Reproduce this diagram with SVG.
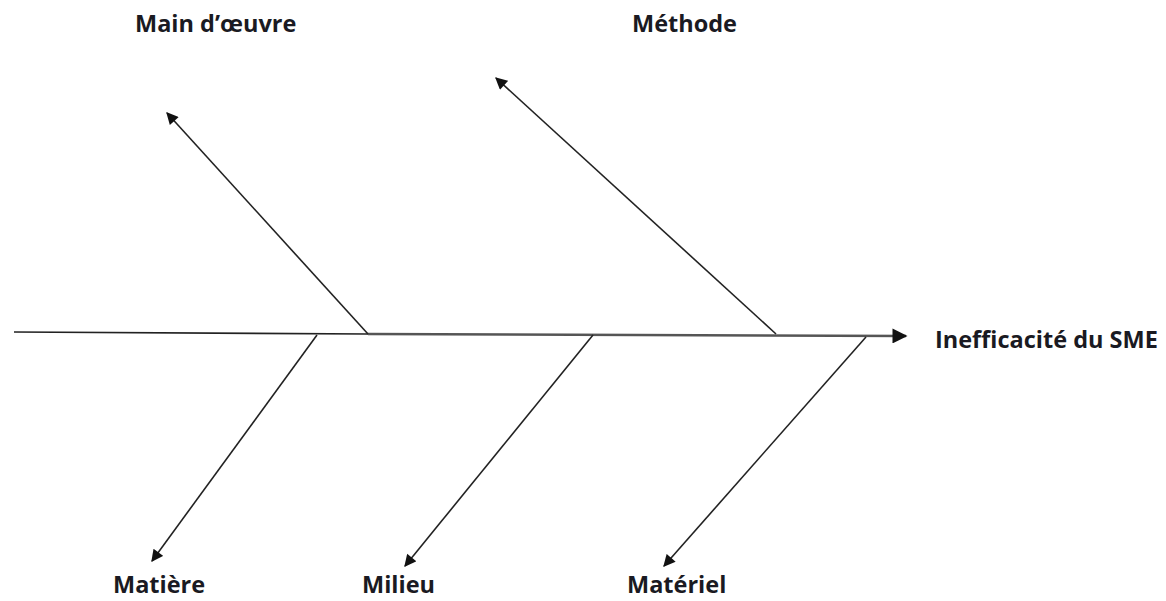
<svg xmlns="http://www.w3.org/2000/svg" width="1166" height="601" viewBox="0 0 1166 601">
<style>
.lbl{font-family:"Open Sans","Liberation Sans",sans-serif;font-weight:bold;font-size:23.5px;fill:#1a1a22}
.ln{stroke:#222;stroke-width:1.6;fill:none}
.spine{stroke:#555;stroke-width:2.5;fill:none}
</style>
<defs>
<marker id="ah" viewBox="0 0 10 10" refX="9" refY="5" markerWidth="13" markerHeight="12" markerUnits="userSpaceOnUse" orient="auto">
<path d="M0,0 L10,5 L0,10 z" fill="#111"/>
</marker>
<marker id="ahBig" viewBox="0 0 10 10" refX="9" refY="5" markerWidth="17" markerHeight="15" markerUnits="userSpaceOnUse" orient="auto">
<path d="M0,0 L10,5 L0,10 z" fill="#111"/>
</marker>
</defs>
<rect width="1166" height="601" fill="#fff"/>
<g id="connectors">
<path class="ln" d="M14,332 L368,334"/>
<path class="spine" d="M368,334 L906,336" marker-end="url(#ahBig)"/>
<path class="ln" d="M368,334 L167,113" marker-end="url(#ah)"/>
<path class="ln" d="M776,334 L496,78" marker-end="url(#ah)"/>
<path class="ln" d="M317,335 L152,561" marker-end="url(#ah)"/>
<path class="ln" d="M593,335 L405,566" marker-end="url(#ah)"/>
<path class="ln" d="M866,337 L664,566" marker-end="url(#ah)"/>
</g>
<g id="effect"><text class="lbl" x="935" y="348">Inefficacité du SME</text></g>
<g id="main-oeuvre"><text class="lbl" x="135" y="32">Main d’œuvre</text></g>
<g id="methode"><text class="lbl" x="632" y="32">Méthode</text></g>
<g id="matiere"><text class="lbl" x="113" y="593">Matière</text></g>
<g id="milieu"><text class="lbl" x="362" y="593">Milieu</text></g>
<g id="materiel"><text class="lbl" x="627" y="593">Matériel</text></g>
</svg>
